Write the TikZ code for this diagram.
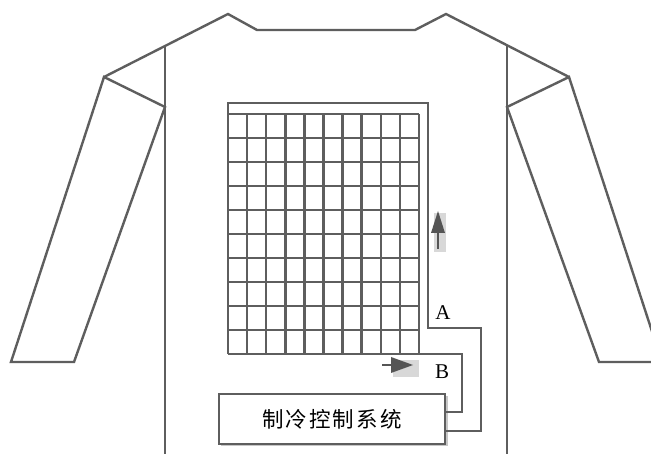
\documentclass[tikz,border=0pt]{standalone}
\usepackage{fontspec}
\setmainfont{Liberation Serif}
\newfontfamily\cjk[LetterSpace=10]{Noto Sans CJK SC}
\usetikzlibrary{arrows.meta}
\definecolor{ink}{HTML}{5E5E5E}
\definecolor{arrowink}{HTML}{555555}
\definecolor{patch}{HTML}{D8D8D8}
\tikzset{
  outline/.style={draw=ink, line width=2.4pt, line join=miter},
  pipe/.style={draw=ink, line width=2.5pt},
  shaft/.style={draw=arrowink, line width=2.4pt},
  head/.style={fill=arrowink, draw=none},
  patchbox/.style={fill=patch, draw=none},
  tag/.style={font=\fontsize{21}{21}\selectfont, inner sep=0pt, text=black},
  ctrlbox/.style={draw=ink, line width=1.8pt, fill=white, minimum width=226pt,
    minimum height=50pt, inner sep=0pt},
}
\begin{document}
\begin{tikzpicture}[x=1pt,y=-1pt]
\useasboundingbox (0,0) rectangle (651,454);
\fill[white] (0,0) rectangle (651,454);
\begin{scope}
\clip (0,0) rectangle (651,454);
% garment outline: shoulders and neckline
\draw[outline] (104,77) -- (228,14) -- (257,30) -- (415,30) -- (446,14) -- (569,77);
% sleeves
\draw[outline] (104,77) -- (11,362) -- (74,362) -- (165,107) -- cycle;
\draw[outline] (569,77) -- (662,362) -- (599,362) -- (507,107) -- cycle;
% side seams of the body
\draw[outline] (165,45) -- (165,460);
\draw[outline] (507,45) -- (507,460);
\end{scope}

% cooling tube grid, 10 x 10 cells
\foreach \i in {0,...,10} {
  \draw[pipe] ({228+\i*19.1},114) -- ({228+\i*19.1},354);
}
\foreach \j in {0,...,9} {
  \draw[pipe] (228,{114+\j*24}) -- (419,{114+\j*24});
}

% control unit with drop shadow
\fill[gray!45] (221,396) rectangle (448,446);
\node[ctrlbox, anchor=north west] (ctrl) at (218,393) {};
\node[fill=white, inner sep=3pt] (ctrltext) at (ctrl.center)
  {\cjk\fontsize{21.5}{21.5}\selectfont 制冷控制系统};

% supply line A and return line B
\coordinate (gridtl) at (228,114);
\coordinate (gridbr) at (419,354);
\coordinate (ctrlA) at (ctrl.east |- 0,431);
\coordinate (ctrlB) at (ctrl.east |- 0,412);
\draw[pipe] (gridtl) -- (228,103) -- (428,103) -- (428,328) -- (481,328)
  -- (481,431) -- (ctrlA);
\draw[pipe] (228,354) -- (gridbr) -- (462,354) -- (462,412) -- (ctrlB);

% flow direction markers
\fill[patchbox] (434,213) rectangle (446,252);
\coordinate (upS) at (438,249);
\coordinate (upE) at (438,230);
\draw[shaft] (upS) -- (upE);
\fill[head] (431,233) -- (438,211) -- (445,233) -- cycle;
\fill[patchbox] (393,360) rectangle (419,377);
\coordinate (rtS) at (382,365);
\coordinate (rtE) at (394,365);
\draw[shaft] (rtS) -- (rtE);
\fill[head] (391,357) -- (413,365) -- (391,373) -- cycle;

% line labels
\node[tag] (labA) at (443,313) {A};
\node[tag] (labB) at (442,372) {B};
\end{tikzpicture}
\end{document}
